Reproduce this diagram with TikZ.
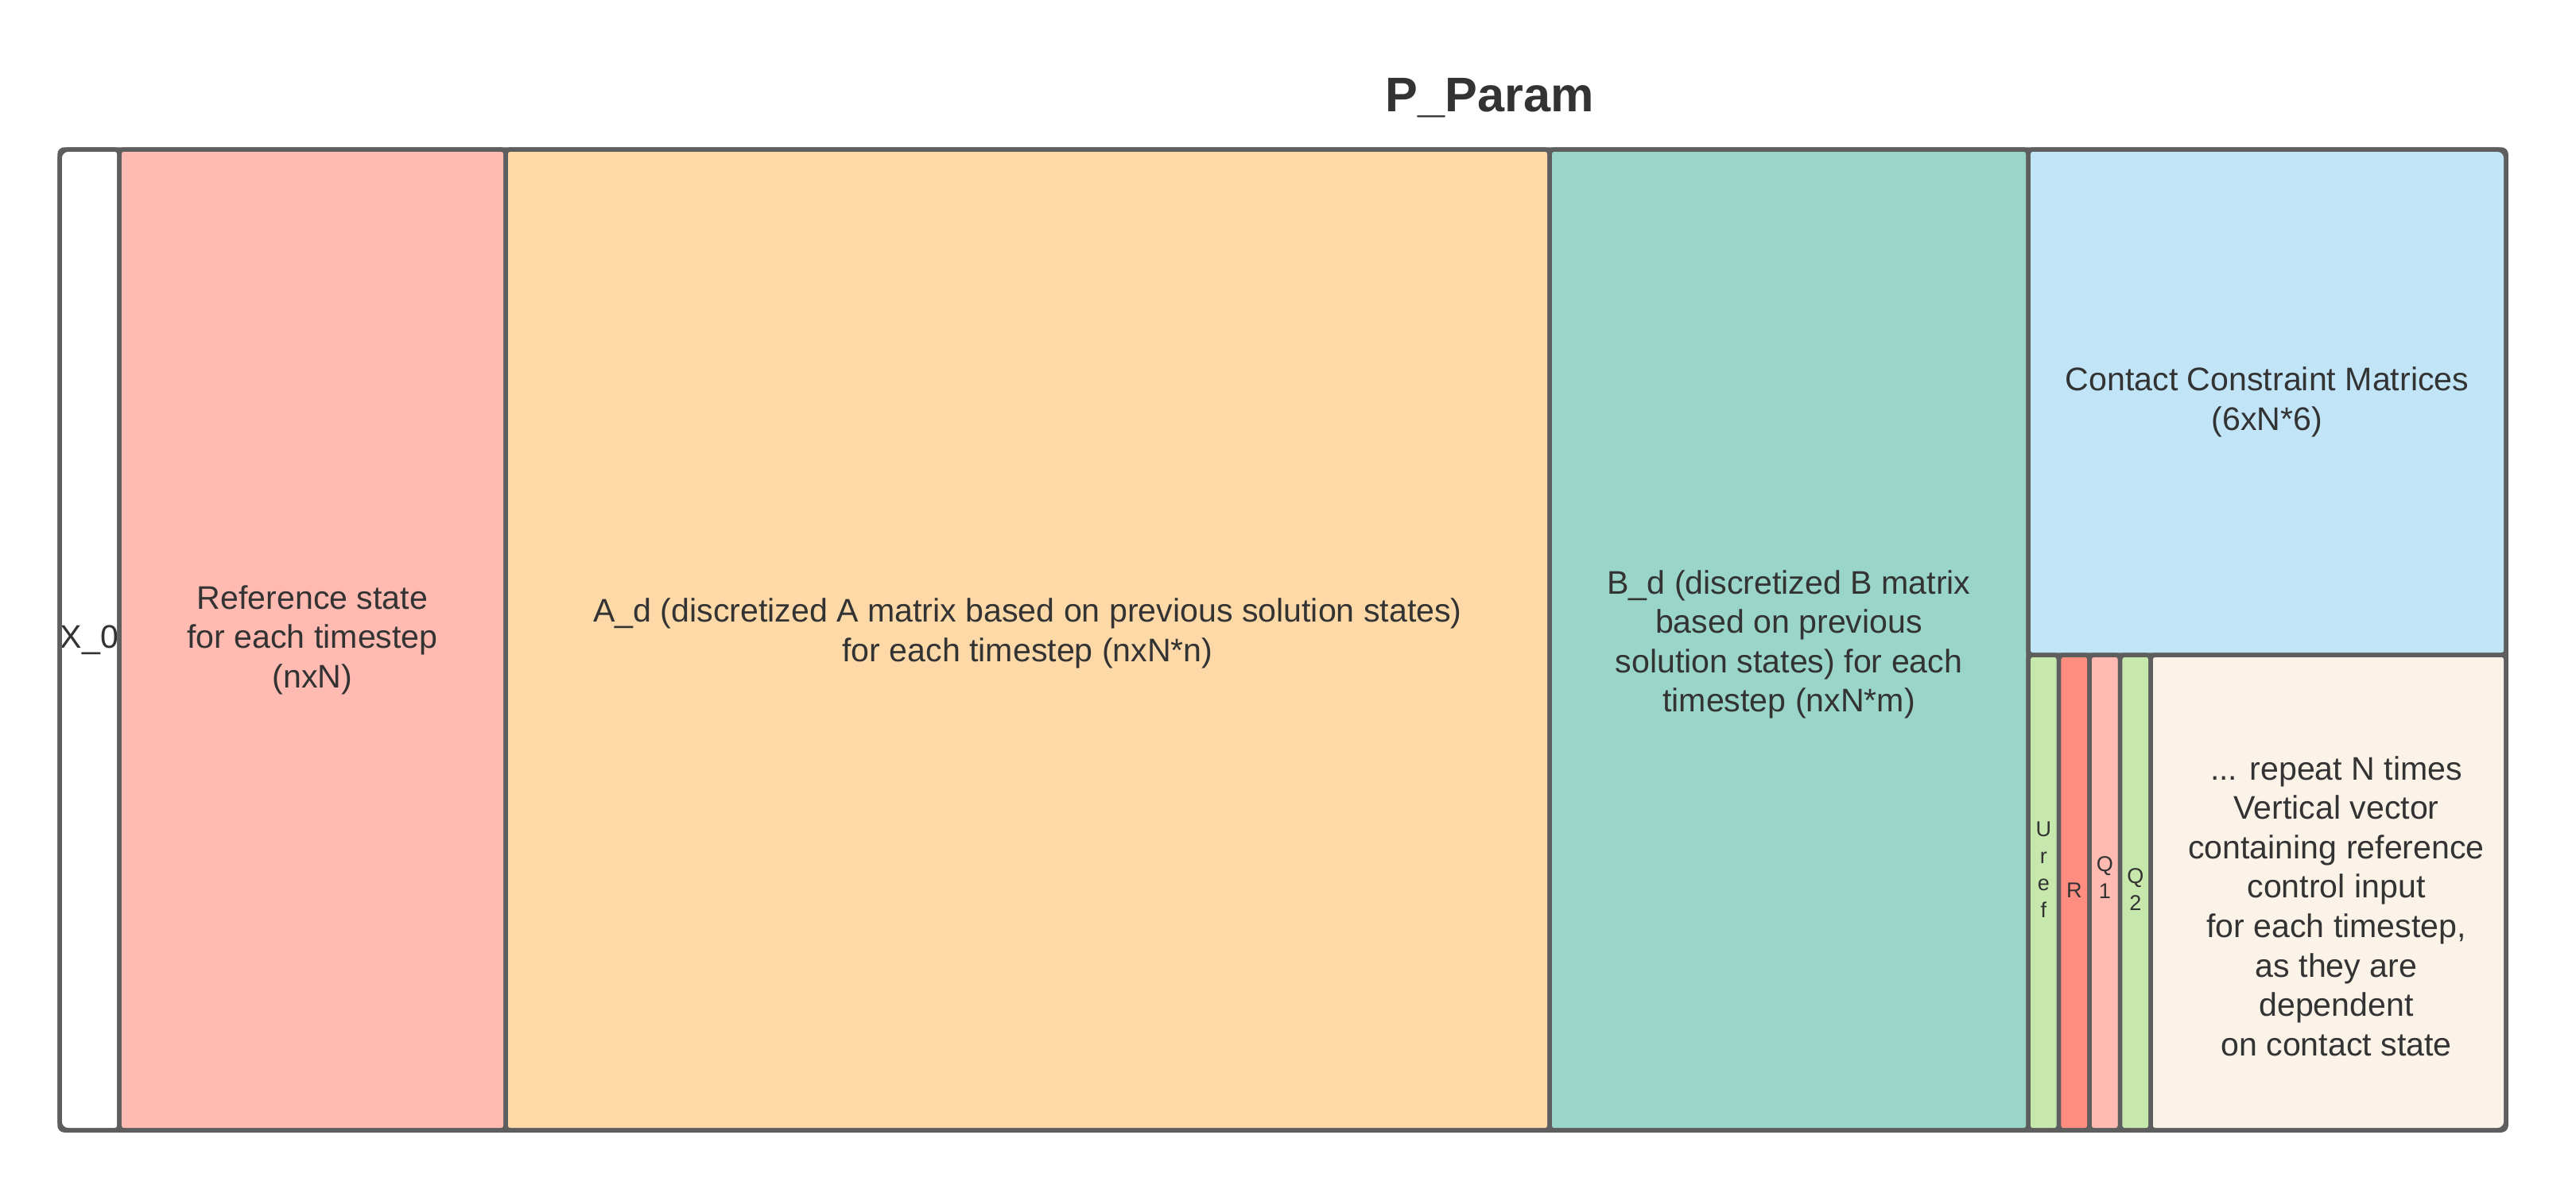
\documentclass[tikz,border=0pt]{standalone}
\usepackage{fontspec}
\setmainfont{Liberation Sans}
\usetikzlibrary{positioning,fit}
\definecolor{LineGray}{HTML}{5E5E5E}
\definecolor{TextGray}{HTML}{333333}
\definecolor{RefPink}{HTML}{FFBBB1}
\definecolor{AdOrange}{HTML}{FED9A8}
\definecolor{BdTeal}{HTML}{9AD5CA}
\definecolor{CmBlue}{HTML}{C1E4F7}
\definecolor{CtrlCream}{HTML}{FBF2E8}
\definecolor{SoftGreen}{HTML}{C7E8AC}
\definecolor{Salmon}{HTML}{FF8E80}

\begin{document}
\begin{tikzpicture}[
    cell/.style={draw=LineGray, line width=0.55mm, rounded corners=0.6mm, inner sep=0pt, outer sep=0pt, align=center, text=TextGray, font=\fontsize{11.7}{14.1}\selectfont, minimum height=12.34cm},
    strip/.style={cell, minimum width=0.385cm, minimum height=5.98cm},
    tag/.style={align=center, text=TextGray, font=\fontsize{7.7}{9.7}\selectfont, inner sep=0pt},
    note/.style={align=center, text=TextGray, font=\fontsize{11.7}{14.1}\selectfont, inner sep=0pt},
    pframe/.style={draw=LineGray, line width=0.55mm, rounded corners=1.1mm, inner sep=0pt},
    heading/.style={text=TextGray, font=\fontsize{17.4}{20}\selectfont\bfseries, inner sep=0pt}
]
\useasboundingbox (0,0) rectangle (32.4,-15);
% main columns
\node[cell, fill=white, minimum width=0.75cm, anchor=north west] (x0) at (0.75,-1.88) {X\_0};
\node[cell, fill=RefPink, minimum width=4.86cm, right=0pt of x0] (refst) {Reference state\\for each timestep\\(nxN)};
\node[cell, fill=AdOrange, minimum width=13.13cm, right=0pt of refst] (adm) {};
\node[cell, fill=BdTeal, minimum width=6.02cm, right=0pt of adm] (bdm) {};
\node[note, yshift=0.08cm] (adm-t) at (adm) {A\_d (discretized A matrix based on previous solution states)\\for each timestep (nxN*n)};
\node[note, yshift=-0.06cm] (bdm-t) at (bdm) {B\_d (discretized B matrix\\based on previous\\solution states) for each\\timestep (nxN*m)};
% right part
\node[cell, fill=CmBlue, minimum width=6.01cm, minimum height=6.36cm, anchor=north west] (cmat) at (bdm.north east) {Contact Constraint Matrices\\(6xN*6)};
\node[strip, fill=SoftGreen, anchor=north west] (uref) at (cmat.south west) {};
\node[strip, fill=Salmon, right=0pt of uref] (rwt) {};
\node[strip, fill=RefPink, right=0pt of rwt] (qone) {};
\node[strip, fill=SoftGreen, right=0pt of qone] (qtwo) {};
\node[cell, fill=CtrlCream, minimum width=4.47cm, minimum height=5.98cm, right=0pt of qtwo] (ctrl) {};
\node[tag, yshift=0.29cm] (uref-t) at (uref) {U\\r\\e\\f};
\node[tag, yshift=0.03cm] (rwt-t) at (rwt) {R};
\node[tag, yshift=0.19cm] (qone-t) at (qone) {Q\\1};
\node[tag, yshift=0.04cm] (qtwo-t) at (qtwo) {Q\\2};
\node[note, xshift=0.1cm, yshift=-0.17cm] (ctrl-t) at (ctrl) {... repeat N times\\Vertical vector\\containing reference\\control input\\for each timestep,\\as they are\\dependent\\on contact state};
% container and title
\node[pframe, fit=(x0)(cmat)(ctrl)] (pparam) {};
\node[heading, above=0.45cm of pparam.north, anchor=base, xshift=2.6cm] (ttl) {P\_Param};
\end{tikzpicture}
\end{document}
